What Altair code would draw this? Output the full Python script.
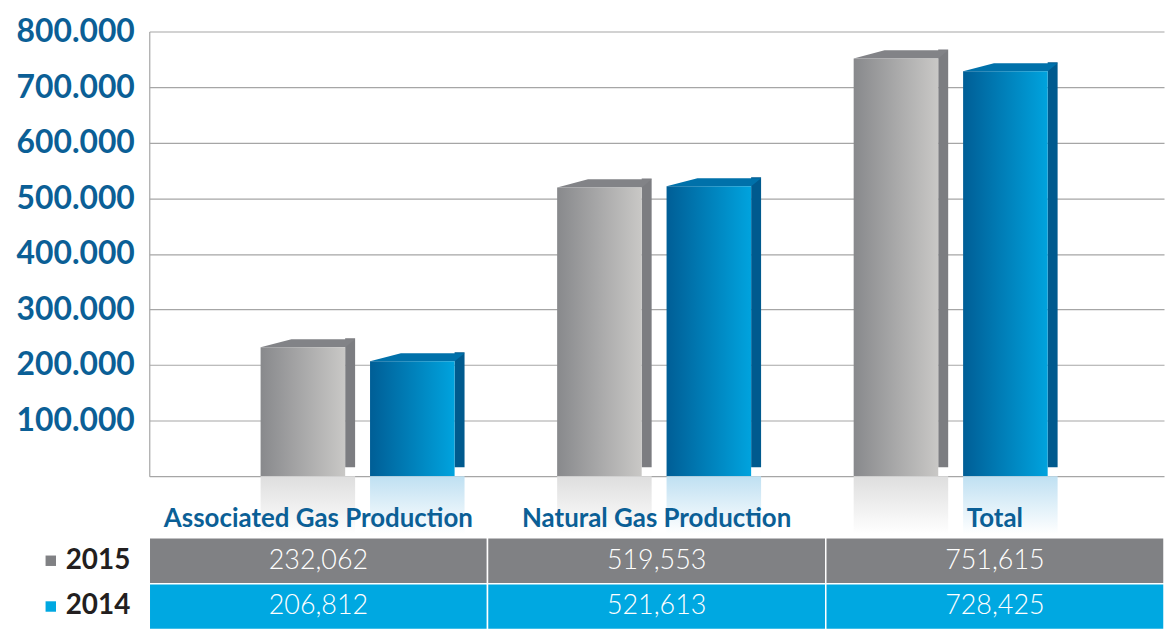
import altair as alt
import pandas as pd

categories = ["Associated Gas Production", "Natural Gas Production", "Total"]
years = ["2015", "2014"]
values_2015 = [232062, 519553, 751615]
values_2014 = [206812, 521613, 728425]
y_ticks = [0, 100000, 200000, 300000, 400000, 500000, 600000, 700000, 800000]

rows = []
for i, c in enumerate(categories):
    rows.append({"category": c, "year": "2015", "value": values_2015[i]})
    rows.append({"category": c, "year": "2014", "value": values_2014[i]})
df = pd.DataFrame(rows)

W = 1020
H = 447
FONT = "Lato"
BLUE_TXT = "#0b5f96"
BAR_W = 85
SHIFT = {"2015": -55, "2014": 55}
TOP_SHAPE = "M-1,0L1,0L1.235,-0.19L-0.27,-0.19Z"

x_bar = alt.X("category:N", sort=categories,
              scale=alt.Scale(paddingInner=0, paddingOuter=0.211, align=0.48),
              axis=None)
y_bar = alt.Y("value:Q", scale=alt.Scale(domain=[0, 800000]),
              axis=alt.Axis(values=y_ticks, title=None, ticks=False, grid=True,
                            labelExpr="datum.value == 0 ? '' : replace(format(datum.value, ',d'), ',', '.')",
                            labelFont=FONT, labelFontSize=32, labelFontWeight="bold",
                            labelColor=BLUE_TXT, labelPadding=15,
                            gridColor="#a6a6a6", gridWidth=1.2,
                            domainColor="#a6a6a6", domainWidth=1.2))

base = alt.Chart(df).encode(x=x_bar, y=y_bar)


def hgrad(c1, c2):
    return alt.LinearGradient(gradient="linear", x1=0, y1=0, x2=1, y2=0,
                              stops=[alt.GradientStop(color=c1, offset=0),
                                     alt.GradientStop(color=c2, offset=1)])


def vgrad(c1, c2):
    return alt.LinearGradient(gradient="linear", x1=0, y1=0, x2=0, y2=1,
                              stops=[alt.GradientStop(color=c1, offset=0),
                                     alt.GradientStop(color=c2, offset=1)])


styles = {
    "2015": dict(side="#7c7d81", top="#828387", front=("#88898c", "#c9c8c6"),
                 refl=("#dedede", "#ffffff")),
    "2014": dict(side="#005a8e", top="#0071aa", front=("#005e96", "#00a3de"),
                 refl=("#bfe0f2", "#ffffff")),
}

layers = []
for yr in years:
    s = styles[yr]
    sh = SHIFT[yr]
    b = base.transform_filter(alt.datum.year == yr)
    layers.append(b.mark_bar(color=s["side"], width=10, xOffset=sh + 47.5, yOffset=-9))
    layers.append(b.mark_point(shape=TOP_SHAPE, size=BAR_W * BAR_W, filled=True,
                               color=s["top"], opacity=1, strokeWidth=0, xOffset=sh))
    layers.append(b.mark_bar(color=hgrad(*s["front"]), width=BAR_W, xOffset=sh))
for yr in years:
    s = styles[yr]
    sh = SHIFT[yr]
    b = base.transform_filter(alt.datum.year == yr)
    layers.append(b.mark_bar(color=vgrad(*s["refl"]), width=BAR_W + 10,
                             xOffset=sh + 5).encode(
        y=alt.datum(0), y2=alt.value(H + 58)))

bars = alt.layer(*layers).properties(width=W, height=H)

table_base = alt.Chart(df).encode(
    x=alt.X("category:N", sort=categories,
            scale=alt.Scale(paddingInner=0, paddingOuter=0),
            axis=alt.Axis(orient="top", title=None, ticks=False, domain=False,
                          labelFont=FONT, labelFontSize=26, labelFontWeight="bold",
                          labelColor=BLUE_TXT, labelPadding=6, labelAngle=0,
                          labelLimit=0, labelOverlap=False)),
    y=alt.Y("year:N", sort=years, scale=alt.Scale(paddingInner=0, paddingOuter=0),
            axis=None),
)
rects = table_base.mark_rect(stroke="white", strokeWidth=1.5).encode(
    color=alt.Color("year:N", sort=years,
                    scale=alt.Scale(domain=years, range=["#808184", "#00a8e1"]),
                    legend=alt.Legend(title=None, orient="none", legendX=-113, legendY=9,
                                      symbolType="square", symbolSize=110,
                                      symbolStrokeWidth=0, padding=0,
                                      labelFont=FONT, labelFontSize=28,
                                      labelFontWeight="bold", labelColor="#231f20",
                                      rowPadding=18, labelOffset=1)))
texts = table_base.mark_text(font=FONT, fontSize=27, fontWeight=300, color="white").encode(
    text=alt.Text("value:Q", format=",d"))

table = alt.layer(rects, texts).properties(width=W, height=92)

chart = alt.vconcat(bars, table, spacing=62, bounds="flush").resolve_scale(
    x="independent", y="independent", color="independent"
).resolve_legend(color="independent").properties(
    padding={"left": 8, "top": 6, "right": 0, "bottom": 0}
).configure_view(stroke=None)

chart.save("out.html", embed_options={"renderer": "svg", "actions": False})
